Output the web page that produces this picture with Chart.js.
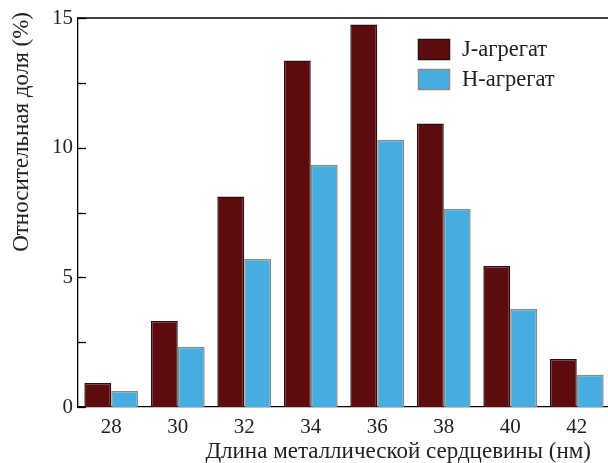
<!DOCTYPE html>
<html>
<head>
<meta charset="utf-8">
<script src="https://cdn.jsdelivr.net/npm/chart.js@4"></script>
<style>
  html, body { margin: 0; padding: 0; background: #fff; overflow: hidden; }
  #wrap { width: 612px; height: 463px; }
</style>
</head>
<body>
<div id="wrap"><canvas id="chart"></canvas></div>
<script>
// Данные
const lengths = ['28', '30', '32', '34', '36', '38', '40', '42'];
const jAggregate = [0.93, 3.32, 8.12, 13.36, 14.75, 10.93, 5.44, 1.85];
const hAggregate = [0.62, 2.32, 5.71, 9.34, 10.31, 7.64, 3.78, 1.24];
const yTicks = [0, 5, 10, 15];
const minorTicks = [2.5, 7.5, 12.5];

const fontFamily = "'Liberation Serif', serif";
Chart.defaults.font.family = fontFamily;

// Рамка, внутренние засечки, подписи осей и легенда
const decorations = {
    id: 'decorations',
    afterDraw(chart) {
        const { ctx, chartArea, scales } = chart;
        const y = scales.y;
        ctx.save();
        ctx.strokeStyle = '#000';
        ctx.lineWidth = 1.3;

        // верхняя линия рамки
        ctx.beginPath();
        ctx.moveTo(chartArea.left, chartArea.top);
        ctx.lineTo(chartArea.right, chartArea.top);
        ctx.stroke();

        // засечки внутрь
        yTicks.concat(minorTicks).forEach(v => {
            const py = Math.round(y.getPixelForValue(v)) + 0.5;
            ctx.beginPath();
            ctx.moveTo(chartArea.left, py);
            ctx.lineTo(chartArea.left + 8, py);
            ctx.stroke();
        });

        // подписи осей
        ctx.fillStyle = '#222';
        ctx.font = '23px ' + fontFamily;
        ctx.textBaseline = 'middle';
        ctx.textAlign = 'right';
        ctx.fillText('Длина металлической сердцевины (нм)', chartArea.right - 19, 452);

        ctx.save();
        ctx.translate(22, chartArea.top - 6);
        ctx.rotate(-Math.PI / 2);
        ctx.textAlign = 'right';
        ctx.fillText('Относительная доля (%)', 0, 0);
        ctx.restore();

        // легенда
        ctx.font = '22.5px ' + fontFamily;
        ctx.textAlign = 'left';
        chart.data.datasets.forEach((ds, i) => {
            const top = 39 + i * 30;
            ctx.fillStyle = ds.backgroundColor;
            ctx.fillRect(418, top, 32, 21);
            ctx.strokeStyle = ds.borderColor;
            ctx.lineWidth = 1.5;
            ctx.strokeRect(418.5, top + 0.5, 31, 20);
            ctx.fillStyle = '#222';
            ctx.fillText(ds.label, 462, top + 11);
        });
        ctx.restore();
    }
};

const chart = new Chart(document.getElementById('chart'), {
    type: 'bar',
    data: {
        labels: lengths,
        datasets: [
            {
                label: 'J-агрегат',
                data: jAggregate,
                backgroundColor: '#5e0b0f',
                borderColor: '#2b1010',
                borderWidth: 1.5,
                categoryPercentage: 0.81,
                barPercentage: 1.0
            },
            {
                label: 'H-агрегат',
                data: hAggregate,
                backgroundColor: '#46ade0',
                borderColor: '#8a8a8a',
                borderWidth: 1.5,
                categoryPercentage: 0.81,
                barPercentage: 1.0
            }
        ]
    },
    options: {
        responsive: true,
        maintainAspectRatio: false,
        animation: false,
        layout: { padding: { top: 18, right: 2, left: 0, bottom: 0 } },
        plugins: {
            legend: { display: false },
            tooltip: { enabled: false }
        },
        scales: {
            x: {
                grid: { display: false, drawTicks: false },
                border: { display: true, color: '#000', width: 1.3 },
                ticks: {
                    color: '#222',
                    padding: 8,
                    font: { family: fontFamily, size: 21 }
                },
                afterFit(scale) { scale.height = 56; }
            },
            y: {
                min: 0,
                max: 15,
                grid: { display: false, drawTicks: false },
                border: { display: true, color: '#000', width: 1.3 },
                ticks: {
                    stepSize: 5,
                    color: '#222',
                    padding: 5,
                    font: { family: fontFamily, size: 21 }
                },
                afterFit(scale) { scale.width = 78; }
            }
        }
    },
    plugins: [decorations]
});

// перерисовка после загрузки шрифтов
document.fonts.ready.then(() => chart.update());
</script>
</body>
</html>
